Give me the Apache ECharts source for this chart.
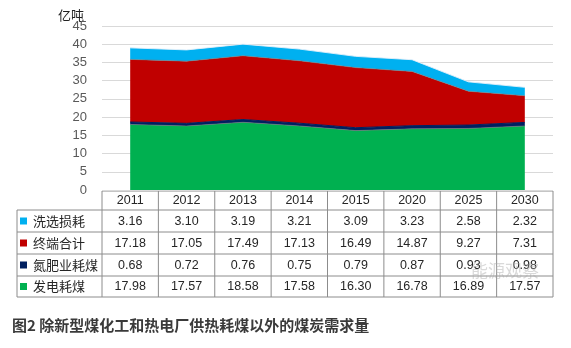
<!DOCTYPE html>
<html><head><meta charset="utf-8">
<script src="https://cdn.jsdelivr.net/npm/echarts@6/dist/echarts.min.js"></script>
<style>html,body{margin:0;padding:0;background:#fff}#c{width:571px;height:348px}</style>
</head><body><div id="c"></div>
<script>
const categories = ['2011','2012','2013','2014','2015','2020','2025','2030'];
const xixuan = [3.16,3.10,3.19,3.21,3.09,3.23,2.58,2.32];
const zhongduan = [17.18,17.05,17.49,17.13,16.49,14.87,9.27,7.31];
const danfei = [0.68,0.72,0.76,0.75,0.79,0.87,0.93,0.98];
const fadian = [17.98,17.57,18.58,17.58,16.30,16.78,16.89,17.57];
const yTicks = [0,5,10,15,20,25,30,35,40,45];
const seriesNames = ['发电耗煤','氮肥业耗煤','终端合计','洗选损耗'];
const colors = ['#00B050','#002060','#C00000','#00B0F0'];
const stackData = [fadian, danfei, zhongduan, xixuan];
const tableRows = [
  {name:'洗选损耗', data:xixuan, color:'#00B0F0'},
  {name:'终端合计', data:zhongduan, color:'#C00000'},
  {name:'氮肥业耗煤', data:danfei, color:'#002060'},
  {name:'发电耗煤', data:fadian, color:'#00B050'}
];
const fmt = v => v.toFixed(2);

const L = 102, R = 553, T = 26, B = 190;
const colW = (R - L) / categories.length;
const font = "'Liberation Sans','Noto Sans CJK SC',sans-serif";
const cjk = "'Noto Sans CJK SC',sans-serif";

const graphics = [];
const border = '#8c8c8c';
const headTop = 191, headBot = 210;
const rowBounds = [210, 232, 254, 276, 297];
const labelLeft = 17;
graphics.push({type:'line', shape:{x1:L,y1:headTop,x2:R,y2:headTop}, style:{stroke:border,lineWidth:1}});
for (let i=0;i<=categories.length;i++){
  const x = L + i*colW;
  graphics.push({type:'line', shape:{x1:x,y1:headTop,x2:x,y2:rowBounds[rowBounds.length-1]}, style:{stroke:border,lineWidth:1}});
}
categories.forEach((c,i)=>{
  graphics.push({type:'text', style:{text:c, x:L+(i+0.5)*colW, y:(headTop+headBot)/2+0.5, align:'center', verticalAlign:'middle', font:"12.5px "+font, fill:'#262626'}});
});
rowBounds.forEach(y=>{
  graphics.push({type:'line', shape:{x1:labelLeft,y1:y,x2:R,y2:y}, style:{stroke:border,lineWidth:1}});
});
graphics.push({type:'line', shape:{x1:labelLeft,y1:rowBounds[0],x2:labelLeft,y2:rowBounds[rowBounds.length-1]}, style:{stroke:border,lineWidth:1}});
tableRows.forEach((row,r)=>{
  const cy = (rowBounds[r]+rowBounds[r+1])/2;
  graphics.push({type:'rect', shape:{x:20,y:cy-3.5,width:7,height:7}, style:{fill:row.color}});
  graphics.push({type:'text', style:{text:row.name, x:33, y:cy, align:'left', verticalAlign:'middle', font:"13px "+cjk, fill:'#262626'}});
  row.data.forEach((v,i)=>{
    graphics.push({type:'text', style:{text:fmt(v), x:L+(i+0.5)*colW, y:cy+0.5, align:'center', verticalAlign:'middle', font:"12.5px "+font, fill:'#262626'}});
  });
});
graphics.push({type:'text', style:{text:'能源观察', x:505, y:271, align:'center', verticalAlign:'middle', font:"17px "+cjk, fill:'rgba(170,170,170,0.45)'}});
graphics.push({type:'text', style:{text:'图2 除新型煤化工和热电厂供热耗煤以外的煤炭需求量', x:12, y:325, align:'left', verticalAlign:'middle', font:"bold 15px "+cjk, fill:'#3a3a3a'}});
graphics.push({type:'text', style:{text:'亿吨', x:58, y:15, align:'left', verticalAlign:'middle', font:"13px "+cjk, fill:'#222'}});

const chart = echarts.init(document.getElementById('c'), null, {renderer:'canvas'});
chart.setOption({
  animation:false,
  grid:{left:L, right:571-R, top:T, bottom:348-B, containLabel:false},
  xAxis:{type:'category', data:categories, boundaryGap:true, axisLine:{show:false}, axisTick:{show:false}, axisLabel:{show:false}},
  yAxis:{type:'value', min:0, max:45, interval:5, axisLine:{show:false}, axisTick:{show:false},
    axisLabel:{color:'#595959', fontSize:13, fontFamily:font, margin:15, formatter:v=>yTicks.includes(v)?String(v):''},
    splitLine:{lineStyle:{color:'#d9d9d9'}}},
  series: stackData.map((d,i)=>({
    name:seriesNames[i], type:'line', stack:'total', data:d, symbol:'none',
    lineStyle:{width:1, color: i===1 ? '#002060' : (i===3 ? 'rgba(230,240,250,0.9)' : 'rgba(120,120,120,0.6)')},
    areaStyle:{color:colors[i], opacity:1}, itemStyle:{color:colors[i]}
  })),
  graphic: graphics
});
</script></body></html>
